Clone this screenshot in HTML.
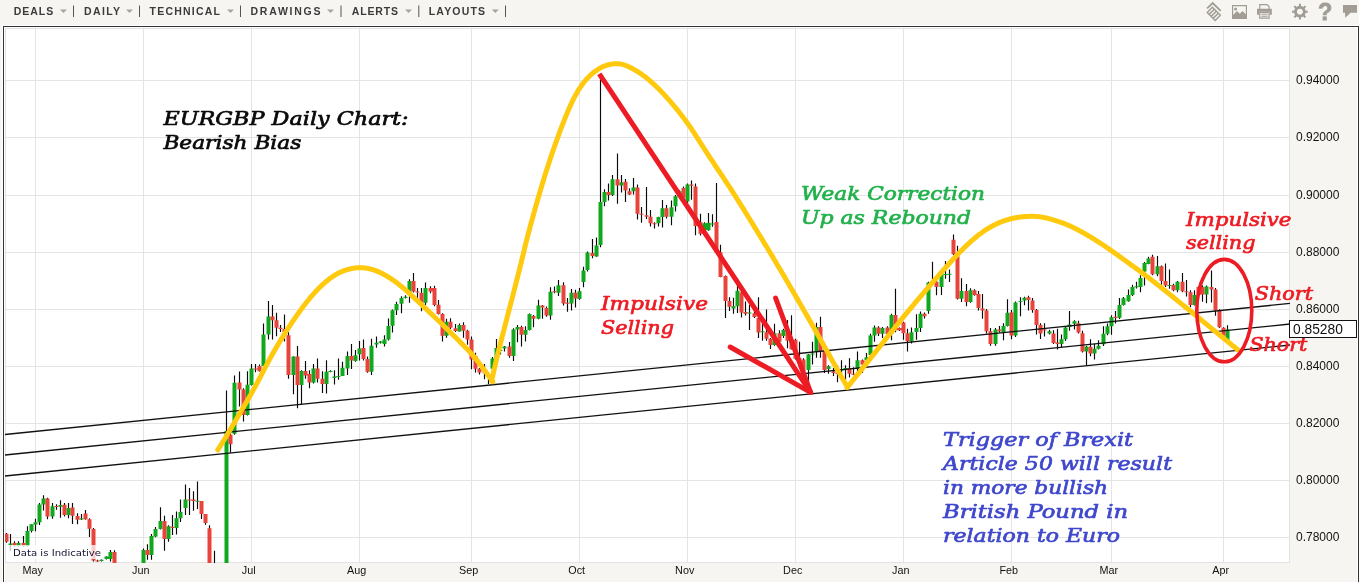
<!DOCTYPE html>
<html><head><meta charset="utf-8"><title>EURGBP Daily Chart</title>
<style>html,body{margin:0;padding:0;background:#f7f5f1;overflow:hidden}svg{display:block}</style></head>
<body>
<svg width="1359" height="582" viewBox="0 0 1359 582">
<rect width="1359" height="582" fill="#f7f5f1"/>
<rect x="5" y="28" width="1285" height="535" fill="#fff"/>
<path d="M35.5 28 V563 M143.5 28 V563 M251.5 28 V563 M359.5 28 V563 M471.5 28 V563 M579.5 28 V563 M687.5 28 V563 M795.5 28 V563 M903.5 28 V563 M1011.5 28 V563 M1111.5 28 V563 M1223.5 28 V563 M5 80.5 H1290 M5 137.5 H1290 M5 195.5 H1290 M5 252.5 H1290 M5 309.5 H1290 M5 366.5 H1290 M5 423.5 H1290 M5 480.5 H1290 M5 537.5 H1290" stroke="#e4e4e4" stroke-width="1" fill="none" shape-rendering="crispEdges"/>
<path d="M5.5 562 V28.5 H1290 M5 562.5 H1289.5 V28" stroke="#e2e2e2" stroke-width="1" fill="none" shape-rendering="crispEdges"/>
<path d="M2.5 582 V25.5 H1359 M4.5 582 V27.5 H1357.5 V582" stroke="#fff" stroke-width="1" fill="none" shape-rendering="crispEdges"/>
<path d="M3.5 582 V26.5 H1358.5 V582" stroke="#333" stroke-width="1" fill="none" shape-rendering="crispEdges"/>
<clipPath id="pc"><rect x="5" y="28" width="1285" height="535"/></clipPath>
<g clip-path="url(#pc)">
<path d="M6.5 532.9 V542.7 M10.5 534.0 V550.8 M14.5 541.3 V546.7 M18.5 541.3 V546.7 M23.5 536.1 V546.7 M27.5 526.3 V546.7 M31.5 524.2 V532.5 M35.5 518.7 V531.2 M39.5 503.1 V525.0 M43.5 495.3 V510.5 M47.5 497.8 V519.3 M52.5 503.1 V518.7 M56.5 504.3 V509.7 M60.5 500.2 V517.7 M64.5 503.1 V516.5 M68.5 503.1 V518.2 M72.5 503.1 V523.9 M77.5 513.3 V524.2 M81.5 514.1 V520.0 M85.5 510.0 V519.8 M89.5 518.2 V536.9 M93.5 528.0 V561.4 M97.5 559.8 V561.8 M101.5 559.5 V561.4 M106.5 556.2 V559.5 M110.5 550.0 V561.4 M114.5 550.3 V563.1 M143.5 548.4 V568.0 M147.5 544.3 V559.8 M151.5 534.0 V559.8 M155.5 527.1 V537.3 M160.5 507.2 V529.6 M164.5 515.7 V550.8 M168.5 525.2 V541.8 M172.5 514.9 V535.0 M176.5 511.6 V534.5 M180.5 499.4 V521.9 M185.5 484.4 V514.9 M189.5 488.0 V514.9 M193.5 491.2 V510.8 M197.5 481.4 V508.9 M201.5 501.0 V519.0 M205.5 514.1 V524.7 M209.5 525.2 V568.0 M214.5 550.8 V568.0 M226.5 390.4 V575.0 M230.5 431.0 V452.7 M234.5 375.4 V434.8 M239.5 371.6 V406.4 M243.5 388.3 V421.6 M247.5 371.2 V415.5 M251.5 364.1 V385.4 M255.5 364.1 V372.2 M259.5 364.6 V371.6 M263.5 323.6 V366.5 M268.5 301.0 V339.5 M272.5 305.1 V339.5 M276.5 312.7 V336.3 M280.5 325.0 V331.9 M284.5 314.6 V341.4 M288.5 331.9 V378.8 M293.5 356.5 V394.3 M297.5 346.1 V408.3 M301.5 370.3 V404.5 M305.5 361.0 V378.8 M309.5 370.3 V388.2 M313.5 364.1 V383.5 M317.5 358.4 V382.6 M322.5 371.2 V393.0 M326.5 360.3 V393.5 M330.5 370.3 V372.2 M334.5 370.3 V384.5 M338.5 358.4 V379.7 M342.5 361.8 V376.0 M347.5 351.5 V375.0 M351.5 344.0 V368.9 M355.5 350.0 V361.7 M359.5 340.9 V360.4 M363.5 339.6 V360.4 M367.5 356.6 V372.7 M371.5 338.7 V375.0 M376.5 336.4 V347.8 M380.5 340.9 V343.4 M384.5 335.3 V346.6 M388.5 318.5 V340.6 M392.5 309.4 V332.6 M396.5 301.8 V315.1 M401.5 296.2 V313.2 M405.5 295.2 V298.6 M409.5 279.2 V302.8 M413.5 272.9 V292.4 M417.5 288.0 V298.1 M421.5 288.0 V311.3 M425.5 282.4 V305.1 M430.5 286.2 V293.3 M434.5 285.8 V306.2 M438.5 300.0 V314.5 M442.5 313.2 V341.5 M446.5 318.8 V337.7 M450.5 318.3 V329.2 M455.5 323.9 V332.1 M459.5 323.6 V331.5 M463.5 322.2 V337.7 M467.5 329.8 V344.7 M471.5 336.4 V369.3 M475.5 352.7 V372.6 M479.5 367.9 V374.5 M484.5 364.1 V379.2 M488.5 373.5 V383.9 M492.5 357.1 V370.7 M496.5 338.9 V359.0 M500.5 348.0 V354.6 M504.5 346.1 V351.4 M509.5 342.0 V357.8 M513.5 328.2 V360.9 M517.5 325.0 V342.3 M521.5 325.7 V346.5 M525.5 326.3 V341.4 M529.5 313.6 V330.6 M533.5 315.0 V327.2 M538.5 299.8 V319.3 M542.5 304.9 V318.7 M546.5 306.5 V316.8 M550.5 287.2 V319.7 M554.5 286.6 V293.2 M558.5 280.0 V296.1 M563.5 282.3 V305.5 M567.5 297.9 V311.7 M571.5 289.1 V310.6 M575.5 289.8 V307.4 M579.5 287.9 V299.8 M583.5 266.8 V287.2 M587.5 251.6 V271.5 M592.5 239.0 V258.2 M596.5 237.5 V256.7 M600.5 74.0 V247.3 M604.5 189.3 V206.3 M608.5 183.6 V200.6 M612.5 175.1 V195.9 M617.5 153.6 V203.8 M621.5 175.1 V192.5 M625.5 178.9 V201.9 M629.5 188.3 V195.0 M633.5 177.9 V194.4 M637.5 184.6 V219.5 M641.5 206.9 V222.7 M646.5 187.0 V218.9 M650.5 210.1 V226.5 M654.5 222.3 V228.4 M658.5 216.7 V226.5 M662.5 200.1 V227.6 M666.5 205.0 V218.6 M671.5 200.6 V225.2 M675.5 195.0 V211.4 M679.5 190.2 V197.8 M683.5 186.5 V198.7 M687.5 183.6 V203.8 M691.5 180.4 V199.7 M695.5 183.6 V235.2 M700.5 213.8 V235.6 M704.5 222.3 V230.8 M708.5 212.9 V230.8 M712.5 214.2 V226.8 M716.5 183.0 V252.3 M720.5 244.8 V277.3 M725.5 275.6 V318.1 M729.5 297.3 V311.1 M733.5 297.8 V313.7 M737.5 278.4 V313.0 M741.5 291.6 V317.5 M745.5 301.6 V315.6 M749.5 304.8 V330.0 M754.5 308.6 V318.1 M758.5 297.3 V337.9 M762.5 323.7 V340.7 M766.5 309.6 V340.7 M770.5 337.9 V348.9 M774.5 323.7 V345.8 M779.5 330.3 V342.6 M783.5 328.8 V337.9 M787.5 320.0 V348.3 M791.5 315.2 V349.6 M795.5 338.8 V359.6 M799.5 341.7 V368.1 M803.5 358.3 V371.9 M808.5 354.0 V384.2 M812.5 341.7 V364.4 M816.5 322.8 V357.7 M820.5 316.7 V357.7 M824.5 350.2 V372.9 M828.5 365.3 V373.8 M833.5 368.1 V376.1 M837.5 365.3 V382.3 M841.5 360.2 V373.8 M845.5 365.3 V380.4 M849.5 358.3 V377.6 M853.5 367.2 V375.3 M857.5 351.5 V372.3 M862.5 359.6 V372.9 M866.5 353.0 V360.6 M870.5 333.7 V356.4 M874.5 325.6 V341.7 M878.5 326.2 V336.0 M882.5 326.9 V337.9 M887.5 326.2 V335.1 M891.5 313.7 V340.2 M895.5 288.8 V332.2 M899.5 327.5 V330.9 M903.5 321.8 V339.8 M907.5 328.8 V351.5 M911.5 327.5 V343.6 M916.5 314.3 V339.8 M920.5 311.5 V331.9 M924.5 312.4 V318.6 M928.5 281.7 V313.8 M932.5 261.8 V283.6 M936.5 276.0 V295.3 M941.5 273.2 V294.9 M945.5 260.9 V278.8 M949.5 269.4 V282.1 M953.5 234.4 V255.2 M957.5 245.8 V299.6 M961.5 278.3 V302.1 M966.5 283.9 V306.2 M970.5 288.3 V302.8 M974.5 289.2 V295.8 M978.5 291.1 V310.5 M982.5 293.9 V318.8 M986.5 309.0 V333.6 M990.5 327.9 V345.8 M995.5 327.9 V345.8 M999.5 326.0 V332.6 M1003.5 323.2 V340.2 M1007.5 299.2 V326.4 M1011.5 310.0 V339.2 M1015.5 301.5 V337.0 M1020.5 297.3 V316.2 M1024.5 296.7 V305.2 M1028.5 295.8 V310.5 M1032.5 298.0 V312.8 M1036.5 309.0 V334.5 M1040.5 323.2 V338.9 M1044.5 323.2 V336.4 M1049.5 329.8 V334.5 M1053.5 330.2 V344.0 M1057.5 328.8 V349.6 M1061.5 334.5 V347.7 M1065.5 326.4 V341.1 M1069.5 310.9 V330.7 M1074.5 320.3 V329.4 M1078.5 320.7 V333.6 M1082.5 330.7 V352.5 M1086.5 345.8 V365.3 M1090.5 339.2 V356.2 M1094.5 344.0 V359.6 M1098.5 340.2 V349.6 M1103.5 326.2 V346.1 M1107.5 323.4 V335.3 M1111.5 315.3 V334.7 M1115.5 311.1 V323.4 M1119.5 297.9 V319.1 M1123.5 297.0 V305.5 M1128.5 289.4 V301.7 M1132.5 284.7 V296.0 M1136.5 281.8 V288.5 M1140.5 275.2 V292.2 M1144.5 262.0 V285.6 M1148.5 256.7 V264.3 M1152.5 254.8 V275.2 M1157.5 256.0 V276.2 M1161.5 265.4 V284.7 M1165.5 263.5 V286.9 M1169.5 269.6 V288.8 M1173.5 283.7 V291.3 M1177.5 280.9 V292.2 M1182.5 273.0 V292.2 M1186.5 280.0 V296.4 M1190.5 290.3 V307.3 M1194.5 290.3 V305.5 M1198.5 286.2 V296.0 M1202.5 285.6 V301.7 M1206.5 285.6 V303.2 M1211.5 270.5 V302.6 M1215.5 288.1 V315.8 M1219.5 309.2 V328.1 M1223.5 327.2 V336.6 M1227.5 325.3 V341.4" stroke="#0a0a0a" stroke-width="1.15" fill="none"/>
<path d="M8.50 543.5 h4 v1.6 h-4z M16.50 543.1 h4 v2.8 h-4z M25.50 530.9 h4 v15.0 h-4z M29.50 524.2 h4 v6.7 h-4z M33.50 522.2 h4 v2.3 h-4z M37.50 504.6 h4 v17.6 h-4z M41.50 498.6 h4 v6.0 h-4z M50.50 506.2 h4 v10.3 h-4z M58.50 504.9 h4 v1.8 h-4z M66.50 507.9 h4 v7.0 h-4z M79.50 518.2 h4 v1.3 h-4z M99.50 559.8 h4 v1.3 h-4z M104.50 556.5 h4 v2.5 h-4z M108.50 552.0 h4 v7.0 h-4z M141.50 550.0 h4 v18.0 h-4z M149.50 536.1 h4 v18.8 h-4z M153.50 529.1 h4 v7.5 h-4z M158.50 521.1 h4 v8.0 h-4z M166.50 526.3 h4 v12.6 h-4z M174.50 518.2 h4 v9.8 h-4z M178.50 512.1 h4 v6.1 h-4z M183.50 499.4 h4 v8.5 h-4z M195.50 500.7 h4 v1.0 h-4z M224.50 431.0 h4 v144.0 h-4z M232.50 382.8 h4 v51.0 h-4z M245.50 384.7 h4 v30.3 h-4z M249.50 368.4 h4 v16.6 h-4z M261.50 334.4 h4 v31.5 h-4z M266.50 316.5 h4 v17.9 h-4z M291.50 356.5 h4 v18.5 h-4z M299.50 370.9 h4 v14.1 h-4z M311.50 368.4 h4 v14.2 h-4z M324.50 371.8 h4 v12.3 h-4z M328.50 370.9 h4 v1.0 h-4z M332.50 376.5 h4 v1.4 h-4z M336.50 376.0 h4 v1.0 h-4z M340.50 367.8 h4 v8.2 h-4z M345.50 356.1 h4 v12.4 h-4z M353.50 355.3 h4 v5.7 h-4z M357.50 348.5 h4 v5.7 h-4z M369.50 345.7 h4 v26.0 h-4z M374.50 342.8 h4 v1.6 h-4z M378.50 341.5 h4 v1.3 h-4z M382.50 339.6 h4 v4.4 h-4z M386.50 326.0 h4 v13.6 h-4z M390.50 310.3 h4 v15.5 h-4z M394.50 304.1 h4 v6.2 h-4z M399.50 298.1 h4 v5.6 h-4z M403.50 296.7 h4 v1.2 h-4z M407.50 281.1 h4 v10.4 h-4z M423.50 288.0 h4 v14.8 h-4z M444.50 321.7 h4 v14.1 h-4z M457.50 325.1 h4 v6.4 h-4z M486.50 374.5 h4 v1.0 h-4z M490.50 358.4 h4 v10.4 h-4z M494.50 348.0 h4 v10.4 h-4z M498.50 349.9 h4 v1.0 h-4z M502.50 346.5 h4 v1.9 h-4z M511.50 329.5 h4 v26.4 h-4z M515.50 326.9 h4 v2.6 h-4z M523.50 330.1 h4 v4.7 h-4z M527.50 314.0 h4 v16.1 h-4z M536.50 305.5 h4 v13.2 h-4z M548.50 291.7 h4 v23.8 h-4z M556.50 285.3 h4 v7.5 h-4z M569.50 292.8 h4 v10.8 h-4z M577.50 291.3 h4 v7.6 h-4z M581.50 270.6 h4 v11.3 h-4z M585.50 252.6 h4 v17.4 h-4z M594.50 245.4 h4 v11.0 h-4z M598.50 201.9 h4 v43.1 h-4z M602.50 192.1 h4 v9.8 h-4z M610.50 179.3 h4 v15.7 h-4z M619.50 182.3 h4 v3.2 h-4z M631.50 187.4 h4 v3.8 h-4z M656.50 217.1 h4 v6.2 h-4z M660.50 208.2 h4 v8.9 h-4z M669.50 207.2 h4 v9.5 h-4z M673.50 196.3 h4 v10.0 h-4z M677.50 191.2 h4 v5.1 h-4z M685.50 184.6 h4 v17.0 h-4z M702.50 223.3 h4 v6.6 h-4z M706.50 222.7 h4 v7.6 h-4z M710.50 223.6 h4 v1.0 h-4z M731.50 306.2 h4 v2.4 h-4z M735.50 290.7 h4 v15.5 h-4z M747.50 312.4 h4 v1.0 h-4z M760.50 331.3 h4 v1.0 h-4z M772.50 333.2 h4 v11.9 h-4z M781.50 330.0 h4 v6.0 h-4z M806.50 354.5 h4 v15.5 h-4z M810.50 353.4 h4 v1.1 h-4z M814.50 326.9 h4 v24.2 h-4z M826.50 366.2 h4 v2.9 h-4z M839.50 369.6 h4 v1.0 h-4z M843.50 368.1 h4 v1.2 h-4z M855.50 360.2 h4 v8.9 h-4z M864.50 357.2 h4 v3.0 h-4z M868.50 335.6 h4 v19.3 h-4z M872.50 327.5 h4 v8.1 h-4z M880.50 328.1 h4 v5.6 h-4z M889.50 314.9 h4 v18.8 h-4z M909.50 332.2 h4 v9.1 h-4z M914.50 328.1 h4 v3.8 h-4z M918.50 313.7 h4 v14.4 h-4z M926.50 282.6 h4 v28.4 h-4z M930.50 281.3 h4 v1.3 h-4z M939.50 274.5 h4 v12.5 h-4z M943.50 274.1 h4 v1.0 h-4z M947.50 273.7 h4 v1.0 h-4z M959.50 291.1 h4 v7.6 h-4z M968.50 290.2 h4 v11.9 h-4z M993.50 329.4 h4 v14.6 h-4z M1001.50 326.0 h4 v6.6 h-4z M1005.50 312.8 h4 v13.2 h-4z M1013.50 302.4 h4 v33.1 h-4z M1018.50 301.1 h4 v1.0 h-4z M1022.50 297.7 h4 v2.8 h-4z M1047.50 331.3 h4 v2.3 h-4z M1059.50 339.2 h4 v4.8 h-4z M1063.50 327.5 h4 v11.7 h-4z M1067.50 324.5 h4 v2.5 h-4z M1072.50 321.3 h4 v2.4 h-4z M1084.50 346.8 h4 v4.7 h-4z M1092.50 348.7 h4 v4.7 h-4z M1096.50 345.8 h4 v2.9 h-4z M1101.50 333.8 h4 v10.4 h-4z M1105.50 326.2 h4 v7.6 h-4z M1109.50 317.2 h4 v9.0 h-4z M1117.50 305.1 h4 v12.6 h-4z M1121.50 298.3 h4 v6.8 h-4z M1126.50 295.1 h4 v6.2 h-4z M1130.50 286.9 h4 v8.2 h-4z M1134.50 286.2 h4 v1.0 h-4z M1138.50 278.1 h4 v8.8 h-4z M1142.50 262.9 h4 v8.6 h-4z M1146.50 258.6 h4 v5.3 h-4z M1155.50 266.2 h4 v8.1 h-4z M1167.50 285.1 h4 v1.0 h-4z M1175.50 281.8 h4 v8.5 h-4z M1192.50 295.1 h4 v10.0 h-4z M1204.50 286.6 h4 v7.9 h-4z M1225.50 329.6 h4 v10.8 h-4z" fill="#10a81c"/>
<path d="M4.50 533.7 h4 v8.1 h-4z M12.50 543.1 h4 v2.8 h-4z M21.50 543.1 h4 v2.8 h-4z M45.50 498.6 h4 v17.9 h-4z M54.50 505.9 h4 v1.0 h-4z M62.50 504.8 h4 v10.1 h-4z M70.50 507.6 h4 v8.1 h-4z M75.50 516.0 h4 v3.8 h-4z M83.50 513.6 h4 v5.7 h-4z M87.50 519.3 h4 v9.5 h-4z M91.50 529.1 h4 v31.5 h-4z M95.50 560.6 h4 v1.0 h-4z M112.50 552.0 h4 v11.1 h-4z M145.50 550.0 h4 v4.9 h-4z M162.50 521.1 h4 v17.8 h-4z M170.50 526.8 h4 v1.3 h-4z M187.50 499.4 h4 v1.0 h-4z M191.50 499.4 h4 v1.6 h-4z M199.50 501.0 h4 v13.1 h-4z M203.50 514.1 h4 v9.0 h-4z M207.50 528.3 h4 v39.7 h-4z M212.50 566.3 h4 v1.7 h-4z M228.50 434.8 h4 v9.4 h-4z M237.50 382.6 h4 v7.0 h-4z M241.50 389.4 h4 v25.6 h-4z M253.50 368.4 h4 v1.0 h-4z M257.50 365.9 h4 v5.3 h-4z M270.50 316.5 h4 v3.7 h-4z M274.50 320.2 h4 v7.6 h-4z M278.50 327.8 h4 v1.1 h-4z M282.50 328.9 h4 v3.0 h-4z M286.50 335.3 h4 v39.7 h-4z M295.50 356.5 h4 v28.5 h-4z M303.50 370.9 h4 v4.5 h-4z M307.50 374.1 h4 v8.5 h-4z M315.50 368.4 h4 v10.4 h-4z M320.50 378.8 h4 v5.3 h-4z M349.50 356.1 h4 v4.3 h-4z M361.50 348.1 h4 v11.0 h-4z M365.50 359.1 h4 v12.6 h-4z M411.50 281.1 h4 v10.4 h-4z M415.50 291.5 h4 v1.1 h-4z M419.50 293.0 h4 v9.8 h-4z M428.50 288.0 h4 v3.5 h-4z M432.50 288.0 h4 v17.1 h-4z M436.50 304.7 h4 v9.4 h-4z M440.50 314.1 h4 v21.7 h-4z M448.50 321.7 h4 v6.0 h-4z M453.50 328.3 h4 v2.8 h-4z M461.50 325.1 h4 v5.6 h-4z M465.50 330.7 h4 v8.9 h-4z M469.50 339.6 h4 v19.9 h-4z M473.50 355.9 h4 v12.9 h-4z M477.50 368.8 h4 v3.8 h-4z M482.50 372.2 h4 v1.0 h-4z M507.50 346.5 h4 v9.4 h-4z M519.50 326.9 h4 v7.9 h-4z M531.50 315.9 h4 v2.8 h-4z M540.50 305.5 h4 v1.9 h-4z M544.50 308.0 h4 v7.5 h-4z M552.50 291.3 h4 v1.0 h-4z M561.50 285.3 h4 v18.3 h-4z M565.50 302.7 h4 v1.0 h-4z M573.50 292.8 h4 v5.7 h-4z M590.50 253.0 h4 v3.0 h-4z M606.50 192.1 h4 v2.9 h-4z M615.50 179.3 h4 v6.2 h-4z M623.50 181.7 h4 v8.9 h-4z M627.50 191.2 h4 v3.2 h-4z M635.50 187.4 h4 v26.4 h-4z M639.50 213.8 h4 v1.0 h-4z M644.50 215.2 h4 v1.5 h-4z M648.50 216.7 h4 v6.6 h-4z M652.50 223.3 h4 v1.0 h-4z M664.50 208.2 h4 v8.5 h-4z M681.50 188.0 h4 v9.8 h-4z M689.50 184.6 h4 v1.1 h-4z M693.50 186.5 h4 v39.6 h-4z M698.50 222.3 h4 v11.4 h-4z M714.50 222.1 h4 v30.2 h-4z M718.50 252.3 h4 v24.6 h-4z M723.50 275.9 h4 v25.2 h-4z M727.50 301.1 h4 v5.6 h-4z M739.50 292.6 h4 v19.8 h-4z M743.50 312.0 h4 v1.7 h-4z M752.50 313.3 h4 v3.8 h-4z M756.50 318.1 h4 v14.5 h-4z M764.50 332.2 h4 v6.6 h-4z M768.50 338.8 h4 v6.3 h-4z M777.50 333.2 h4 v8.5 h-4z M785.50 333.2 h4 v7.5 h-4z M789.50 339.8 h4 v9.4 h-4z M793.50 339.8 h4 v18.9 h-4z M797.50 358.3 h4 v1.3 h-4z M801.50 359.6 h4 v11.4 h-4z M818.50 326.9 h4 v24.2 h-4z M822.50 351.1 h4 v18.9 h-4z M831.50 371.5 h4 v1.4 h-4z M835.50 372.9 h4 v1.0 h-4z M847.50 368.1 h4 v5.7 h-4z M851.50 373.8 h4 v1.0 h-4z M860.50 360.2 h4 v4.2 h-4z M876.50 327.5 h4 v6.2 h-4z M885.50 327.5 h4 v6.6 h-4z M893.50 314.9 h4 v15.4 h-4z M897.50 328.1 h4 v2.2 h-4z M901.50 322.4 h4 v10.8 h-4z M905.50 333.2 h4 v8.1 h-4z M922.50 313.7 h4 v2.5 h-4z M934.50 281.7 h4 v5.3 h-4z M951.50 239.7 h4 v14.6 h-4z M955.50 256.2 h4 v42.5 h-4z M964.50 291.1 h4 v11.0 h-4z M972.50 290.2 h4 v4.7 h-4z M976.50 293.9 h4 v14.2 h-4z M980.50 308.6 h4 v1.9 h-4z M984.50 310.5 h4 v20.8 h-4z M988.50 331.3 h4 v12.7 h-4z M997.50 329.4 h4 v1.9 h-4z M1009.50 312.4 h4 v23.1 h-4z M1026.50 297.3 h4 v2.6 h-4z M1030.50 300.5 h4 v9.5 h-4z M1034.50 310.0 h4 v15.1 h-4z M1038.50 325.1 h4 v8.5 h-4z M1042.50 329.4 h4 v1.0 h-4z M1051.50 333.6 h4 v9.4 h-4z M1055.50 342.6 h4 v1.4 h-4z M1076.50 323.2 h4 v9.4 h-4z M1080.50 333.2 h4 v18.3 h-4z M1088.50 346.8 h4 v6.6 h-4z M1113.50 316.8 h4 v1.1 h-4z M1150.50 256.7 h4 v17.6 h-4z M1159.50 266.2 h4 v14.7 h-4z M1163.50 280.9 h4 v4.7 h-4z M1171.50 285.1 h4 v5.2 h-4z M1180.50 281.8 h4 v9.5 h-4z M1184.50 291.3 h4 v1.0 h-4z M1188.50 292.2 h4 v12.9 h-4z M1196.50 286.9 h4 v8.2 h-4z M1200.50 286.9 h4 v7.6 h-4z M1209.50 286.9 h4 v2.5 h-4z M1213.50 289.4 h4 v20.8 h-4z M1217.50 311.1 h4 v16.1 h-4z M1221.50 327.8 h4 v7.9 h-4z" fill="#e8443c"/>
</g>
<line x1="5" y1="434.5" x2="1290" y2="303.4" stroke="#111" stroke-width="1.3"/>
<line x1="5" y1="455.0" x2="1290" y2="324.0" stroke="#111" stroke-width="1.3"/>
<line x1="5" y1="476.0" x2="1290" y2="345.0" stroke="#111" stroke-width="1.3"/>
<polyline points="217.8,449.9 218.3,449.1 218.8,448.3 219.4,447.4 219.9,446.6 220.5,445.8 221.0,444.9 221.6,444.0 222.1,443.1 222.7,442.1 223.3,441.1 224.0,440.1 224.6,439.1 225.3,438.0 225.9,436.9 226.6,435.8 227.3,434.6 228.0,433.4 228.7,432.2 229.5,430.9 230.2,429.7 231.0,428.4 231.7,427.1 232.5,425.8 233.3,424.5 234.1,423.1 234.9,421.8 235.7,420.4 236.4,419.1 237.2,417.8 238.0,416.4 238.8,415.1 239.6,413.7 240.4,412.4 241.2,411.0 242.0,409.7 242.8,408.3 243.6,407.0 244.4,405.6 245.1,404.3 245.9,402.9 246.7,401.6 247.5,400.2 248.3,398.9 249.1,397.5 249.9,396.1 250.7,394.7 251.4,393.3 252.2,391.9 253.0,390.5 253.8,389.1 254.6,387.7 255.4,386.2 256.1,384.8 256.9,383.4 257.7,381.9 258.4,380.5 259.2,379.1 259.9,377.6 260.7,376.2 261.4,374.8 262.2,373.4 262.9,371.9 263.7,370.5 264.4,369.1 265.1,367.7 265.8,366.3 266.6,364.9 267.3,363.6 268.0,362.2 268.8,360.8 269.5,359.4 270.2,358.1 271.0,356.7 271.7,355.4 272.5,354.0 273.2,352.7 274.0,351.4 274.8,350.0 275.5,348.7 276.3,347.4 277.1,346.1 277.9,344.8 278.6,343.5 279.4,342.2 280.2,340.9 281.0,339.6 281.8,338.4 282.6,337.1 283.4,335.8 284.1,334.6 284.9,333.3 285.7,332.1 286.5,330.8 287.3,329.6 288.1,328.4 288.9,327.2 289.7,326.0 290.5,324.8 291.2,323.6 292.0,322.4 292.8,321.2 293.6,320.1 294.4,318.9 295.2,317.8 296.0,316.6 296.7,315.5 297.5,314.4 298.3,313.3 299.1,312.2 299.9,311.1 300.7,310.0 301.5,308.9 302.3,307.9 303.0,306.8 303.8,305.8 304.6,304.7 305.4,303.7 306.2,302.7 307.0,301.7 307.8,300.7 308.6,299.8 309.4,298.8 310.1,297.9 310.9,296.9 311.7,296.0 312.5,295.1 313.3,294.2 314.1,293.3 314.9,292.4 315.6,291.6 316.4,290.7 317.2,289.9 318.0,289.1 318.8,288.3 319.6,287.5 320.4,286.7 321.2,286.0 321.9,285.2 322.7,284.5 323.5,283.8 324.3,283.1 325.1,282.4 325.9,281.7 326.7,281.1 327.5,280.4 328.3,279.8 329.0,279.2 329.8,278.6 330.6,278.0 331.4,277.5 332.2,276.9 333.0,276.4 333.8,275.9 334.5,275.4 335.3,274.9 336.1,274.4 336.9,274.0 337.7,273.5 338.5,273.1 339.3,272.7 340.1,272.3 340.9,272.0 341.7,271.6 342.5,271.3 343.2,271.0 344.0,270.7 344.8,270.4 345.6,270.2 346.4,269.9 347.1,269.7 347.9,269.5 348.7,269.3 349.4,269.1 350.1,268.9 350.8,268.7 351.5,268.6 352.2,268.4 352.9,268.3 353.6,268.2 354.2,268.1 354.8,268.0 355.4,267.9 356.0,267.9 356.6,267.8 357.2,267.8 357.8,267.7 358.3,267.7 358.9,267.7 359.4,267.7 360.0,267.7 360.6,267.7 361.1,267.7 361.7,267.7 362.2,267.7 362.8,267.8 363.4,267.8 364.0,267.9 364.6,267.9 365.1,268.0 365.8,268.1 366.4,268.2 367.0,268.3 367.6,268.4 368.2,268.5 368.8,268.6 369.5,268.8 370.1,268.9 370.7,269.1 371.3,269.3 372.0,269.4 372.6,269.6 373.2,269.8 373.9,270.0 374.5,270.2 375.1,270.5 375.8,270.7 376.4,270.9 377.1,271.2 377.7,271.5 378.4,271.7 379.0,272.0 379.7,272.3 380.3,272.6 381.0,272.9 381.7,273.3 382.4,273.6 383.1,274.0 383.8,274.4 384.5,274.8 385.2,275.2 385.9,275.6 386.7,276.0 387.4,276.5 388.2,276.9 388.9,277.4 389.7,277.9 390.5,278.4 391.3,278.9 392.0,279.4 392.8,280.0 393.6,280.5 394.4,281.0 395.1,281.6 395.9,282.2 396.7,282.7 397.4,283.3 398.2,283.9 398.9,284.5 399.7,285.1 400.4,285.7 401.2,286.3 402.0,286.9 402.7,287.6 403.5,288.2 404.3,288.9 405.1,289.6 406.0,290.4 406.8,291.1 407.7,291.9 408.7,292.8 409.7,293.6 410.7,294.6 411.7,295.5 412.9,296.6 414.0,297.6 415.2,298.8 416.5,299.9 417.8,301.1 419.1,302.4 420.5,303.7 421.9,305.0 423.4,306.4 424.8,307.8 426.4,309.2 427.9,310.7 429.4,312.1 431.0,313.6 432.6,315.1 434.2,316.7 435.8,318.2 437.4,319.7 439.0,321.2 440.6,322.8 442.2,324.3 443.7,325.9 445.3,327.4 446.9,328.9 448.5,330.5 450.0,332.0 451.5,333.5 453.0,334.9 454.5,336.4 456.0,337.8 457.4,339.2 458.8,340.6 460.1,341.9 461.4,343.2 462.6,344.5 463.8,345.7 464.9,346.9 466.0,348.0 467.0,349.1 468.0,350.1 469.0,351.1 469.9,352.1 470.7,353.0 471.5,353.9 472.3,354.8 473.1,355.6 473.8,356.5 474.5,357.3 475.2,358.2 475.9,359.0 476.6,359.8 477.3,360.7 477.9,361.6 478.6,362.4 479.3,363.3 480.0,364.2 480.7,365.1 481.4,366.1 482.1,367.0 482.8,368.0 483.6,369.0 484.3,370.0 485.1,371.0 485.8,372.0 486.6,373.1 487.3,374.1 488.1,375.2 488.9,376.3 489.7,377.3 490.4,378.4 491.2,379.5 492.0,380.6 492.8,381.7" fill="none" stroke="#ffc90e" stroke-width="5" stroke-linecap="round" stroke-linejoin="round"/>
<polyline points="491.6,381.0 492.1,378.6 492.7,376.2 493.2,373.8 493.7,371.4 494.3,369.0 494.9,366.6 495.4,364.1 496.0,361.6 496.6,359.1 497.2,356.5 497.8,353.9 498.5,351.3 499.1,348.6 499.8,345.9 500.5,343.2 501.2,340.4 501.9,337.6 502.7,334.7 503.4,331.9 504.2,328.9 504.9,326.0 505.7,323.1 506.5,320.1 507.2,317.1 508.0,314.1 508.8,311.2 509.5,308.2 510.3,305.3 511.0,302.4 511.8,299.6 512.5,296.8 513.2,294.0 513.9,291.4 514.5,288.8 515.2,286.3 515.8,283.8 516.4,281.5 517.0,279.2 517.6,277.0 518.1,274.8 518.6,272.8 519.1,270.8 519.6,268.9 520.1,267.0 520.5,265.1 521.0,263.3 521.4,261.5 521.9,259.7 522.3,257.9 522.7,256.1 523.2,254.3 523.6,252.5 524.1,250.6 524.5,248.7 525.0,246.7 525.5,244.7 526.0,242.6 526.6,240.5 527.1,238.3 527.7,236.1 528.3,233.7 528.9,231.4 529.6,228.9 530.2,226.4 530.9,223.9 531.6,221.3 532.3,218.7 533.1,216.0 533.8,213.3 534.6,210.6 535.3,207.9 536.1,205.2 536.9,202.5 537.6,199.9 538.4,197.2 539.2,194.6 540.0,191.9 540.7,189.4 541.5,186.8 542.2,184.3 543.0,181.9 543.7,179.5 544.4,177.1 545.1,174.8 545.9,172.4 546.6,170.2 547.3,167.9 548.0,165.7 548.7,163.5 549.5,161.2 550.2,159.0 550.9,156.8 551.7,154.6 552.5,152.3 553.3,150.0 554.1,147.7 554.9,145.4 555.7,143.1 556.6,140.7 557.4,138.3 558.3,136.0 559.1,133.6 560.0,131.2 560.9,128.8 561.8,126.5 562.7,124.2 563.6,121.9 564.5,119.6 565.3,117.4 566.2,115.3 567.1,113.2 567.9,111.1 568.8,109.2 569.6,107.2 570.4,105.4 571.3,103.6 572.1,101.9 572.9,100.2 573.7,98.6 574.5,97.1 575.3,95.6 576.1,94.2 576.9,92.8 577.6,91.4 578.4,90.2 579.2,88.9 580.0,87.7 580.8,86.6 581.6,85.4 582.4,84.4 583.1,83.3 583.9,82.3 584.7,81.3 585.5,80.4 586.3,79.5 587.1,78.6 587.9,77.8 588.7,77.0 589.4,76.2 590.2,75.4 591.0,74.7 591.8,74.0 592.6,73.3 593.4,72.6 594.2,72.0 595.0,71.4 595.7,70.8 596.5,70.3 597.3,69.8 598.1,69.2 598.9,68.8 599.7,68.3 600.5,67.9 601.3,67.5 602.1,67.1 602.8,66.7 603.6,66.4 604.4,66.1 605.2,65.8 606.0,65.5 606.7,65.3 607.5,65.1 608.2,64.8 609.0,64.7 609.7,64.5 610.5,64.3 611.2,64.2 611.9,64.1 612.6,64.0 613.3,63.9 614.0,63.8 614.7,63.8 615.4,63.8 616.0,63.7 616.7,63.7 617.3,63.7 617.9,63.8 618.6,63.8 619.2,63.9 619.8,63.9 620.4,64.0 621.0,64.1 621.6,64.2 622.2,64.4 622.8,64.5 623.4,64.7 624.1,64.9 624.7,65.1 625.3,65.3 626.0,65.6 626.6,65.8 627.3,66.1 628.0,66.4 628.6,66.7 629.4,67.1 630.1,67.4 630.8,67.8 631.5,68.1 632.3,68.5 633.0,68.9 633.8,69.4 634.6,69.8 635.3,70.3 636.1,70.7 636.9,71.2 637.7,71.7 638.5,72.2 639.2,72.7 640.0,73.2 640.8,73.7 641.6,74.3 642.4,74.8 643.2,75.4 644.0,76.0 644.8,76.6 645.6,77.2 646.4,77.8 647.2,78.4 647.9,79.1 648.7,79.7 649.5,80.4 650.3,81.1 651.1,81.8 651.9,82.5 652.7,83.2 653.4,83.9 654.2,84.6 655.0,85.4 655.8,86.1 656.6,86.9 657.4,87.7 658.2,88.4 659.0,89.2 659.8,90.0 660.5,90.8 661.3,91.6 662.1,92.5 662.9,93.3 663.7,94.1 664.5,95.0 665.3,95.8 666.1,96.7 666.8,97.6 667.6,98.4 668.4,99.3 669.2,100.2 670.0,101.1 670.8,102.0 671.6,103.0 672.3,103.9 673.1,104.8 673.9,105.7 674.7,106.7 675.5,107.6 676.3,108.6 677.1,109.6 677.9,110.5 678.7,111.5 679.4,112.5 680.2,113.5 681.0,114.5 681.8,115.6 682.6,116.6 683.4,117.6 684.2,118.7 685.0,119.7 685.7,120.8 686.5,121.9 687.3,123.0 688.1,124.1 688.9,125.2 689.7,126.4 690.5,127.5 691.3,128.6 692.0,129.8 692.8,131.0 693.6,132.1 694.4,133.3 695.1,134.5 695.9,135.6 696.6,136.8 697.4,138.0 698.1,139.1 698.9,140.3 699.6,141.4 700.3,142.6 701.1,143.8 701.8,145.0 702.6,146.1 703.4,147.4 704.1,148.6 705.0,149.9 705.8,151.2 706.7,152.6 707.6,154.0 708.6,155.5 709.7,157.1 710.7,158.7 711.9,160.4 713.1,162.2 714.3,164.1 715.6,166.1 717.0,168.1 718.3,170.2 719.8,172.3 721.2,174.5 722.7,176.7 724.2,179.0 725.7,181.3 727.2,183.6 728.8,185.9 730.3,188.2 731.8,190.6 733.3,192.9 734.7,195.2 736.2,197.5 737.6,199.8 739.1,202.1 740.5,204.4 741.9,206.6 743.4,208.9 744.8,211.2 746.2,213.5 747.6,215.8 749.1,218.2 750.5,220.5 752.0,222.9 753.5,225.3 754.9,227.8 756.5,230.2 758.0,232.7 759.5,235.2 761.1,237.7 762.6,240.3 764.1,242.8 765.7,245.3 767.2,247.8 768.7,250.3 770.1,252.7 771.6,255.1 773.0,257.4 774.3,259.7 775.6,261.8 776.8,263.9 778.0,266.0 779.2,267.9 780.3,269.8 781.3,271.5 782.4,273.3 783.4,275.0 784.3,276.6 785.3,278.3 786.2,279.9 787.2,281.6 788.2,283.3 789.2,285.0 790.3,286.9 791.4,288.8 792.6,290.8 793.8,293.0 795.2,295.2 796.5,297.6 798.0,300.1 799.5,302.7 801.0,305.4 802.6,308.1 804.2,311.0 805.9,313.8 807.6,316.8 809.2,319.7 810.9,322.6 812.6,325.5 814.2,328.4 815.8,331.3 817.4,334.1 819.0,336.9 820.5,339.6 822.0,342.3 823.5,344.9 824.9,347.5 826.4,350.0 827.8,352.5 829.2,355.0 830.5,357.5 831.9,359.9 833.3,362.4 834.7,364.8 836.1,367.2 837.4,369.7 838.8,372.1 840.2,374.6 841.6,377.1 843.0,379.5 844.5,382.0 845.9,384.5 847.3,387.0" fill="none" stroke="#ffc90e" stroke-width="5" stroke-linecap="round" stroke-linejoin="round"/>
<polyline points="847.2,387.5 848.5,385.9 849.7,384.4 851.0,382.8 852.2,381.2 853.5,379.7 854.7,378.1 856.0,376.5 857.2,374.9 858.5,373.4 859.7,371.8 861.0,370.2 862.3,368.6 863.5,367.0 864.8,365.4 866.1,363.9 867.3,362.3 868.6,360.7 869.9,359.1 871.1,357.5 872.4,355.9 873.7,354.3 875.0,352.7 876.3,351.1 877.5,349.4 878.8,347.8 880.1,346.2 881.4,344.6 882.7,343.0 884.0,341.4 885.2,339.7 886.5,338.1 887.8,336.5 889.1,334.8 890.4,333.2 891.7,331.6 893.1,329.9 894.4,328.3 895.7,326.6 897.1,324.9 898.4,323.2 899.8,321.5 901.1,319.8 902.5,318.1 903.9,316.4 905.4,314.6 906.8,312.9 908.3,311.1 909.7,309.4 911.2,307.6 912.7,305.8 914.2,304.0 915.7,302.2 917.2,300.4 918.7,298.7 920.2,296.9 921.7,295.1 923.2,293.4 924.6,291.7 926.1,290.0 927.5,288.3 928.9,286.7 930.3,285.1 931.6,283.6 932.9,282.1 934.1,280.7 935.3,279.3 936.5,277.9 937.6,276.7 938.7,275.4 939.7,274.3 940.7,273.1 941.6,272.1 942.5,271.1 943.3,270.1 944.2,269.2 945.0,268.3 945.7,267.4 946.5,266.6 947.2,265.8 947.9,265.0 948.6,264.2 949.3,263.5 950.0,262.7 950.6,262.0 951.3,261.2 952.0,260.5 952.7,259.7 953.4,258.9 954.1,258.2 954.9,257.4 955.6,256.6 956.4,255.8 957.1,255.0 957.9,254.2 958.6,253.4 959.4,252.6 960.2,251.8 961.0,251.0 961.8,250.2 962.6,249.4 963.3,248.6 964.1,247.8 964.9,247.0 965.7,246.3 966.5,245.5 967.3,244.8 968.1,244.0 968.9,243.3 969.7,242.6 970.5,241.8 971.2,241.1 972.0,240.5 972.8,239.8 973.6,239.1 974.4,238.4 975.2,237.8 976.0,237.1 976.7,236.5 977.5,235.9 978.3,235.2 979.1,234.6 979.9,234.0 980.7,233.5 981.5,232.9 982.3,232.3 983.0,231.8 983.8,231.2 984.6,230.7 985.4,230.1 986.2,229.6 987.0,229.1 987.8,228.6 988.6,228.2 989.4,227.7 990.1,227.2 990.9,226.8 991.7,226.3 992.5,225.9 993.3,225.5 994.1,225.1 994.9,224.7 995.6,224.3 996.4,223.9 997.2,223.6 998.0,223.2 998.8,222.9 999.6,222.5 1000.4,222.2 1001.2,221.9 1002.0,221.6 1002.7,221.3 1003.5,221.0 1004.3,220.7 1005.1,220.5 1005.9,220.2 1006.7,220.0 1007.5,219.7 1008.3,219.5 1009.0,219.3 1009.8,219.0 1010.6,218.8 1011.4,218.6 1012.2,218.5 1013.0,218.3 1013.8,218.1 1014.6,218.0 1015.4,217.8 1016.1,217.7 1016.9,217.5 1017.7,217.4 1018.5,217.3 1019.2,217.2 1020.0,217.1 1020.8,217.0 1021.5,216.9 1022.3,216.8 1023.0,216.8 1023.7,216.7 1024.5,216.6 1025.2,216.6 1025.9,216.5 1026.6,216.5 1027.3,216.4 1027.9,216.4 1028.6,216.4 1029.3,216.4 1029.9,216.3 1030.6,216.3 1031.2,216.3 1031.9,216.3 1032.5,216.3 1033.1,216.3 1033.8,216.3 1034.4,216.4 1035.0,216.4 1035.7,216.4 1036.3,216.5 1036.9,216.5 1037.5,216.6 1038.2,216.6 1038.8,216.7 1039.4,216.8 1040.1,216.9 1040.7,217.0 1041.3,217.0 1041.9,217.1 1042.6,217.3 1043.2,217.4 1043.8,217.5 1044.4,217.6 1045.1,217.7 1045.7,217.9 1046.3,218.0 1047.0,218.2 1047.6,218.3 1048.2,218.5 1048.9,218.6 1049.5,218.8 1050.1,219.0 1050.7,219.1 1051.4,219.3 1052.0,219.5 1052.6,219.7 1053.3,219.9 1053.9,220.1 1054.5,220.3 1055.2,220.5 1055.8,220.7 1056.4,220.9 1057.1,221.1 1057.7,221.3 1058.3,221.5 1058.9,221.7 1059.5,221.9 1060.1,222.1 1060.7,222.3 1061.3,222.5 1061.9,222.7 1062.5,222.9 1063.1,223.2 1063.8,223.4 1064.4,223.6 1065.0,223.9 1065.6,224.1 1066.2,224.4 1066.9,224.6 1067.5,224.9 1068.2,225.2 1068.9,225.5 1069.6,225.8 1070.4,226.2 1071.2,226.5 1071.9,226.9 1072.8,227.3 1073.6,227.7 1074.4,228.1 1075.3,228.5 1076.2,229.0 1077.2,229.5 1078.1,230.0 1079.0,230.5 1080.0,231.0 1081.0,231.5 1082.0,232.0 1083.0,232.6 1084.0,233.2 1085.0,233.7 1086.0,234.3 1087.0,234.9 1088.0,235.5 1089.0,236.1 1090.0,236.7 1091.0,237.3 1092.1,237.9 1093.1,238.6 1094.1,239.2 1095.1,239.8 1096.1,240.5 1097.1,241.1 1098.1,241.7 1099.1,242.4 1100.1,243.0 1101.1,243.7 1102.1,244.3 1103.1,245.0 1104.1,245.7 1105.1,246.3 1106.1,247.0 1107.1,247.7 1108.1,248.4 1109.1,249.1 1110.1,249.8 1111.1,250.5 1112.1,251.1 1113.1,251.9 1114.1,252.6 1115.1,253.3 1116.1,254.0 1117.1,254.7 1118.1,255.4 1119.1,256.1 1120.1,256.9 1121.1,257.6 1122.1,258.3 1123.1,259.1 1124.1,259.8 1125.2,260.5 1126.2,261.3 1127.2,262.0 1128.2,262.7 1129.2,263.4 1130.2,264.2 1131.1,264.9 1132.1,265.6 1133.1,266.3 1134.1,267.0 1135.1,267.7 1136.0,268.4 1137.0,269.1 1138.0,269.8 1139.0,270.5 1140.0,271.3 1141.0,272.0 1142.0,272.8 1143.1,273.6 1144.2,274.4 1145.4,275.3 1146.6,276.2 1147.9,277.1 1149.2,278.2 1150.6,279.3 1152.1,280.4 1153.7,281.7 1155.4,283.0 1157.2,284.4 1159.1,285.9 1161.1,287.5 1163.1,289.1 1165.3,290.8 1167.5,292.6 1169.8,294.4 1172.1,296.3 1174.5,298.2 1176.9,300.1 1179.3,302.1 1181.7,304.1 1184.1,306.0 1186.5,308.0 1188.9,309.9 1191.3,311.8 1193.6,313.7 1195.9,315.6 1198.2,317.5 1200.4,319.3 1202.6,321.1 1204.8,322.9 1207.0,324.6 1209.1,326.4 1211.2,328.1 1213.2,329.8 1215.3,331.5 1217.4,333.1 1219.4,334.8 1221.5,336.5 1223.5,338.2 1225.6,339.8 1227.6,341.5 1229.7,343.2 1231.7,344.9 1233.8,346.5 1235.8,348.2 1237.9,349.9" fill="none" stroke="#ffc90e" stroke-width="5" stroke-linecap="round" stroke-linejoin="round"/>
<g stroke="#ed1c24" stroke-width="5" stroke-linecap="round" fill="none">
<line x1="599.3" y1="73.9" x2="810.6" y2="392.4" stroke-linecap="butt"/><circle cx="810.6" cy="392.4" r="2.5" fill="#ed1c24" stroke="none"/>
<line x1="775.6" y1="298" x2="810.6" y2="392.4"/>
<line x1="730.2" y1="347" x2="810.6" y2="392.4"/>
</g>
<ellipse cx="1224.3" cy="310.6" rx="27.5" ry="51.2" fill="none" stroke="#ed1c24" stroke-width="3.6"/>
<g font-family="'DejaVu Serif','Liberation Serif',serif" font-weight="normal" font-style="italic" stroke-width="0.7" stroke-linejoin="round">
<text x="163.4" y="125.0" fill="#0a0a0a" stroke="#0a0a0a" font-size="18.5" textLength="245.2" lengthAdjust="spacingAndGlyphs">EURGBP Daily Chart:</text>
<text x="163.4" y="149.0" fill="#0a0a0a" stroke="#0a0a0a" font-size="18.5" textLength="138.0" lengthAdjust="spacingAndGlyphs">Bearish Bias</text>
<text x="801.0" y="200.0" fill="#22b14c" stroke="#22b14c" font-size="18.5" textLength="184.0" lengthAdjust="spacingAndGlyphs">Weak Correction</text>
<text x="801.0" y="224.0" fill="#22b14c" stroke="#22b14c" font-size="18.5" textLength="170.0" lengthAdjust="spacingAndGlyphs">Up as Rebound</text>
<text x="601.0" y="310.0" fill="#ed1c24" stroke="#ed1c24" font-size="18.5" textLength="107.0" lengthAdjust="spacingAndGlyphs">Impulsive</text>
<text x="601.0" y="334.0" fill="#ed1c24" stroke="#ed1c24" font-size="18.5" textLength="73.0" lengthAdjust="spacingAndGlyphs">Selling</text>
<text x="1186.0" y="226.3" fill="#ed1c24" stroke="#ed1c24" font-size="18.5" textLength="105.5" lengthAdjust="spacingAndGlyphs">Impulsive</text>
<text x="1186.0" y="248.5" fill="#ed1c24" stroke="#ed1c24" font-size="18.5" textLength="69.5" lengthAdjust="spacingAndGlyphs">selling</text>
<text x="1254.7" y="299.5" fill="#ed1c24" stroke="#ed1c24" font-size="18.5" textLength="58.3" lengthAdjust="spacingAndGlyphs">Short</text>
<text x="1249.4" y="350.5" fill="#ed1c24" stroke="#ed1c24" font-size="18.5" textLength="58.0" lengthAdjust="spacingAndGlyphs">Short</text>
<text x="943.0" y="446.0" fill="#3f48cc" stroke="#3f48cc" font-size="18.5" textLength="190.0" lengthAdjust="spacingAndGlyphs">Trigger of Brexit</text>
<text x="943.0" y="470.0" fill="#3f48cc" stroke="#3f48cc" font-size="18.5" textLength="229.0" lengthAdjust="spacingAndGlyphs">Article 50 will result</text>
<text x="943.0" y="494.0" fill="#3f48cc" stroke="#3f48cc" font-size="18.5" textLength="165.0" lengthAdjust="spacingAndGlyphs">in more bullish</text>
<text x="943.0" y="518.0" fill="#3f48cc" stroke="#3f48cc" font-size="18.5" textLength="185.0" lengthAdjust="spacingAndGlyphs">British Pound in</text>
<text x="943.0" y="542.0" fill="#3f48cc" stroke="#3f48cc" font-size="18.5" textLength="177.0" lengthAdjust="spacingAndGlyphs">relation to Euro</text>
</g>
<g font-family="'Liberation Sans',Arial,sans-serif" font-size="12" fill="#111">
<text x="1296" y="83.6">0.94000</text>
<text x="1296" y="140.6">0.92000</text>
<text x="1296" y="198.6">0.90000</text>
<text x="1296" y="255.6">0.88000</text>
<text x="1296" y="312.6">0.86000</text>
<text x="1296" y="369.6">0.84000</text>
<text x="1296" y="426.6">0.82000</text>
<text x="1296" y="483.6">0.80000</text>
<text x="1296" y="540.6">0.78000</text>
</g>
<rect x="1289.5" y="320.5" width="67" height="17" fill="#fff" stroke="#111" stroke-width="1"/>
<text x="1293" y="334" font-family="'Liberation Sans',Arial,sans-serif" font-size="13.8" fill="#111">0.85280</text>
<g font-family="'Liberation Sans',Arial,sans-serif" font-size="10.8" fill="#111" text-anchor="middle">
<text x="32.7" y="573.6">May</text>
<text x="140.7" y="573.6">Jun</text>
<text x="248.7" y="573.6">Jul</text>
<text x="356.7" y="573.6">Aug</text>
<text x="468.7" y="573.6">Sep</text>
<text x="576.7" y="573.6">Oct</text>
<text x="684.7" y="573.6">Nov</text>
<text x="792.7" y="573.6">Dec</text>
<text x="900.7" y="573.6">Jan</text>
<text x="1008.7" y="573.6">Feb</text>
<text x="1108.7" y="573.6">Mar</text>
<text x="1220.7" y="573.6">Apr</text>
</g>
<rect x="10" y="545" width="93" height="14" fill="#fff" fill-opacity="0.75"/>
<text x="13" y="556" font-family="'DejaVu Sans','Liberation Sans',sans-serif" font-size="9.5" fill="#1a1030" textLength="88" lengthAdjust="spacingAndGlyphs">Data is Indicative</text>
<g font-family="'Liberation Sans',Arial,sans-serif" font-size="10.5" font-weight="bold" fill="#3b3b3b">
<text x="13.75" y="14.6" textLength="39.50" lengthAdjust="spacing">DEALS</text>
<path d="M60.0 9.5 h7 l-3.5 3.5z" fill="#a8a49c"/>
<path d="M73.5 5.5 V17" stroke="#555" stroke-width="1"/>
<text x="84.00" y="14.6" textLength="36.00" lengthAdjust="spacing">DAILY</text>
<path d="M126.0 9.5 h7 l-3.5 3.5z" fill="#a8a49c"/>
<path d="M139.5 5.5 V17" stroke="#555" stroke-width="1"/>
<text x="149.50" y="14.6" textLength="70.50" lengthAdjust="spacing">TECHNICAL</text>
<path d="M227.0 9.5 h7 l-3.5 3.5z" fill="#a8a49c"/>
<path d="M240.5 5.5 V17" stroke="#555" stroke-width="1"/>
<text x="250.50" y="14.6" textLength="70.00" lengthAdjust="spacing">DRAWINGS</text>
<path d="M327.0 9.5 h7 l-3.5 3.5z" fill="#a8a49c"/>
<path d="M341.0 5.5 V17" stroke="#555" stroke-width="1"/>
<text x="351.75" y="14.6" textLength="46.25" lengthAdjust="spacing">ALERTS</text>
<path d="M405.0 9.5 h7 l-3.5 3.5z" fill="#a8a49c"/>
<path d="M418.8 5.5 V17" stroke="#555" stroke-width="1"/>
<text x="428.75" y="14.6" textLength="56.25" lengthAdjust="spacing">LAYOUTS</text>
<path d="M491.8 9.5 h7 l-3.5 3.5z" fill="#a8a49c"/>
<path d="M505.5 5.5 V17" stroke="#555" stroke-width="1"/>
</g>
<g fill="#a19d95" stroke="none">
<path d="M1212.4 7.2 L1220.4 15.2 L1215.2 20.4 L1207.2 12.4 z" fill="none" stroke="#a19d95" stroke-width="1.4" stroke-linejoin="miter"/>
<path d="M1214.4 9.2 L1209.1 14.4 M1216.4 11.2 L1211.2 16.4 M1218.4 13.2 L1213.2 18.4" fill="none" stroke="#a19d95" stroke-width="1.5"/>
<path d="M1207.1 8.4 L1212.7 3.1 L1220.7 10.8" fill="none" stroke="#a19d95" stroke-width="1.8" stroke-linejoin="miter"/>
<path d="M1232 5 h15 v14 h-15z M1233.2 6.2 v11.6 h12.6 v-11.6z" fill-rule="evenodd"/>
<path d="M1233 18 v-3 l4 -4 2.8 2.8 2.7 -2.7 3.5 3.5 v3.4z"/><circle cx="1235.6" cy="8.9" r="1.5"/>
<path d="M1259.2 4 h8 l2.5 2.2 v3 h-10.5z M1260.4 5.2 v4 h8.1 v-2.5 l-1.7 -1.5z" fill-rule="evenodd"/>
<path d="M1257 8.8 h14.8 v6 h-2.1 v-3 h-10.5 v3 h-2.2z"/>
<path d="M1259.2 11.8 h10.5 v7 h-10.5z M1260.4 13 v4.6 h8.1 v-4.6z M1261.4 13.7 h6.2 v1 h-6.2z M1261.4 15.8 h6.2 v1 h-6.2z" fill-rule="evenodd"/>
<path d="M1298.9 6.4 L1298.9 3.8 L1300.9 3.8 L1300.9 6.4 L1302.9 7.2 L1304.8 5.4 L1306.2 6.8 L1304.4 8.7 L1305.2 10.7 L1307.8 10.7 L1307.8 12.7 L1305.2 12.7 L1304.4 14.7 L1306.2 16.6 L1304.8 18.0 L1302.9 16.2 L1300.9 17.0 L1300.9 19.6 L1298.9 19.6 L1298.9 17.0 L1296.9 16.2 L1295.0 18.0 L1293.6 16.6 L1295.4 14.7 L1294.6 12.7 L1292.0 12.7 L1292.0 10.7 L1294.6 10.7 L1295.4 8.7 L1293.6 6.8 L1295.0 5.4 L1296.9 7.2 z M1299.9 8.6 a3.1 3.1 0 1 0 0.01 0z" fill-rule="evenodd"/>
<circle cx="1299.9" cy="11.7" r="4.5" fill="none" stroke="#a19d95" stroke-width="2.7"/>
</g>
<text x="1325.2" y="19.7" text-anchor="middle" font-family="'Liberation Sans',Arial,sans-serif" font-weight="bold" font-size="23.5" fill="#a19d95" stroke="#a19d95" stroke-width="0.8">?</text>
<path d="M1343 5 h14 v7.8 h-6.4 l-5.3 5 l-0.3 -5 h-2z" fill="#a19d95"/>
</svg>
</body></html>
